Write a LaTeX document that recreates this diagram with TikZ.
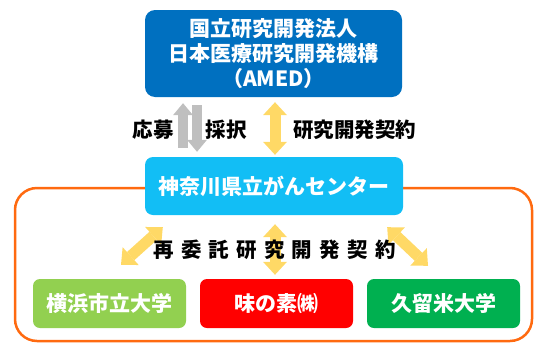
\documentclass[tikz,border=0pt]{standalone}
\usepackage{fontspec}
\setmainfont{Noto Sans CJK JP}
\usetikzlibrary{arrows.meta,calc}
\definecolor{amedblue}{HTML}{0070C0}
\definecolor{centercyan}{HTML}{12BEF5}
\definecolor{yokogreen}{HTML}{92D050}
\definecolor{ajired}{HTML}{FF0000}
\definecolor{kurugreen}{HTML}{00B050}
\definecolor{frameorange}{HTML}{FF6A10}
\definecolor{arrowyellow}{HTML}{FFD966}
\definecolor{arrowgray}{HTML}{BFBFBF}
\begin{document}
\begin{tikzpicture}[x=1pt,y=-1pt,
  box/.style={rounded corners=#1,inner sep=0pt,align=center,text=white,
    font=\fontsize{21}{25}\selectfont\bfseries},
  lbl/.style={inner sep=0pt,text=black,font=\fontsize{20.5}{25}\selectfont\bfseries},
  fatyellow/.style={draw=arrowyellow,line width=11pt,
    {Triangle[width=24pt,length=13pt,line width=0pt]}-{Triangle[width=24pt,length=13pt,line width=0pt]}},
  fatgray/.style={draw=arrowgray,line width=10pt,
    -{Triangle[width=20pt,length=12pt,line width=0pt]}}]
\useasboundingbox (0,0) rectangle (540,343);
% frame
\draw[frameorange,line width=2.5pt,rounded corners=22pt] (15,188) rectangle (532,341);
% boxes
\node[box=10pt,fill=amedblue,minimum width=257pt,minimum height=87pt] (amed) at (273.5,53.5)
  {国立研究開発法人\\日本医療研究開発機構\\（AMED）};
\node[box=8pt,fill=centercyan,minimum width=258pt,minimum height=58pt] (cc) at (274,186)
  {神奈川県立がんセンター};
\node[box=7pt,fill=yokogreen,minimum width=153pt,minimum height=49pt] (yoko) at (109.5,303.5) {横浜市立大学};
\node[box=7pt,fill=ajired,minimum width=153pt,minimum height=49pt] (aji) at (276.5,303.5) {味の素㈱};
\node[box=7pt,fill=kurugreen,minimum width=153pt,minimum height=49pt] (kuru) at (443.5,303.5) {久留米大学};
% top arrows
\draw[fatgray] ($(cc.north)+(-91,-9)$) -- ($(amed.south)+(-90.5,6)$);
\draw[fatgray] ($(amed.south)+(-76.5,8)$) -- ($(cc.north)+(-77,-5)$);
\draw[fatyellow] ($(amed.south)+(1.5,5)$) -- ($(cc.north)+(1,-2)$);
% bottom arrows
\draw[fatyellow] ($(cc.south west)+(18,12)$) -- ($(yoko.north)+(11.5,-14)$);
\draw[fatyellow] ($(cc.south)+(1,9)$) -- ($(aji.north)+(-1.5,-4)$);
\draw[fatyellow] ($(cc.south east)+(-16,12)$) -- ($(kuru.north)+(-15.5,-13)$);
% labels
\node[lbl] (oubo) at (153,130) {応募};
\node[lbl] (saitaku) at (226,130) {採択};
\node[lbl] (keiyaku) at (354.5,130) {研究開発契約};
\node[lbl] (saiitaku) at (274.5,250) {再\hspace{7.2pt}委\hspace{7.2pt}託\hspace{7.2pt}研\hspace{7.2pt}究\hspace{7.2pt}開\hspace{7.2pt}発\hspace{7.2pt}契\hspace{7.2pt}約};
\end{tikzpicture}
\end{document}
